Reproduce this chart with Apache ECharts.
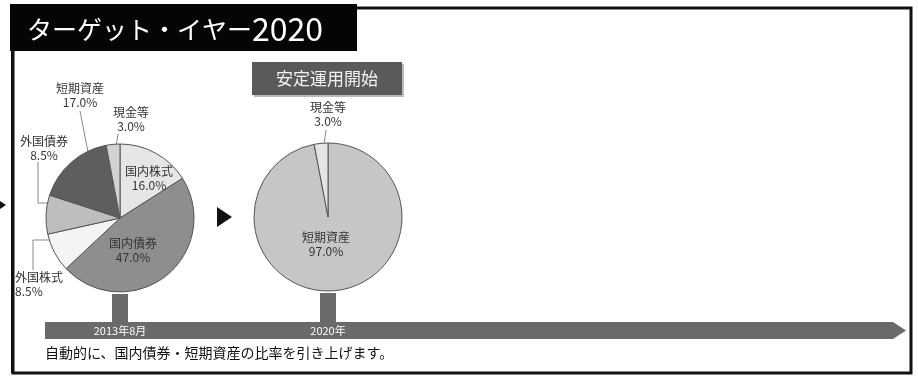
<!DOCTYPE html>
<html>
<head>
<meta charset="utf-8">
<style>
  html, body { margin: 0; padding: 0; background: #fff; }
  #chart { width: 918px; height: 377px; }
</style>
</head>
<body>
<div id="chart"></div>
<script src="https://cdn.jsdelivr.net/npm/echarts@6/dist/echarts.min.js"></script>
<script>
    // 2013年8月 の資産配分
    const nowNames = ['国内株式', '国内債券', '外国株式', '外国債券', '短期資産', '現金等'];
    const nowValues = [16.0, 47.0, 8.5, 8.5, 17.0, 3.0];
    // 2020年 の資産配分
    const targetNames = ['短期資産', '現金等'];
    const targetValues = [97.0, 3.0];
    const timeLabels = ['2013年8月', '2020年'];

    const nowColors = ['#e6e6e6', '#8e8e8e', '#f4f4f4', '#bebebe', '#5e5e5e', '#d2d2d2'];
    const targetColors = ['#c6c6c6', '#e4e4e4'];

    // label placement: [x, y, align, line points]
    const nowLabelPos = [
        [149, 178, 'center', null],
        [133, 250, 'center', null],
        [15, 284, 'left', [[52, 240], [33, 240], [33, 270]]],
        [44, 148, 'center', [[52, 203], [38, 203], [38, 162]]],
        [80, 95, 'center', [[88, 152], [80, 111]]],
        [131, 119, 'center', [[115, 153], [118, 134]]]
    ];
    const targetLabelPos = [
        [326, 244, 'center', null],
        [328, 114, 'center', [[323, 152], [326, 130]]]
    ];

    const font = '"Noto Sans CJK JP", "Noto Sans", sans-serif';
    const chart = echarts.init(document.getElementById('chart'));

    function buildData(names, values, colors, pos) {
        return names.map((n, i) => ({
            name: n,
            value: values[i],
            itemStyle: { color: colors[i] },
            labelLine: { show: !!pos[i][3] }
        }));
    }

    function layoutFor(pos) {
        return function (params) {
            const p = pos[params.dataIndex];
            const res = { x: p[0], y: p[1], align: p[2], verticalAlign: 'middle', hideOverlap: false };
            if (p[3]) res.labelLinePoints = p[3];
            return res;
        };
    }

    function pieSeries(names, values, colors, center, pos) {
        return {
            type: 'pie',
            center: center,
            radius: 74,
            startAngle: 90,
            clockwise: true,
            silent: true,
            avoidLabelOverlap: false,
            data: buildData(names, values, colors, pos),
            itemStyle: { borderColor: '#555', borderWidth: 1 },
            label: {
                show: true,
                position: 'outside',
                overflow: 'none',
                width: 80,
                fontFamily: font,
                fontSize: 12,
                lineHeight: 14,
                color: '#333',
                formatter: (p) => p.name + '\n' + p.value.toFixed(1) + '%'
            },
            labelLine: { show: true, lineStyle: { color: '#888', width: 1 } },
            labelLayout: layoutFor(pos)
        };
    }

    const s1 = pieSeries(nowNames, nowValues, nowColors, [120, 218], nowLabelPos);
    const s2 = pieSeries(targetNames, targetValues, targetColors, [328, 217], targetLabelPos);

    chart.setOption({
        animation: false,
        backgroundColor: '#fff',
        graphic: [
            // frame
            { type: 'rect', shape: { x: 13, y: 8, width: 898, height: 365 }, style: { fill: 'none', stroke: '#111', lineWidth: 3 }, z: -1 },
            { type: 'rect', shape: { x: 11, y: 8, width: 3, height: 365 }, style: { fill: '#111' } },
            { type: 'rect', shape: { x: 10, y: 4, width: 347, height: 47 }, style: { fill: '#050505' } },
            {
                type: 'text', x: 27, y: 29,
                style: {
                    text: '{a|ターゲット・イヤー}{b|2020}',
                    verticalAlign: 'middle',
                    fill: '#fff',
                    rich: {
                        a: { fontFamily: font, fontSize: 25, fill: '#fff' },
                        b: { fontFamily: font, fontSize: 32, fill: '#fff' }
                    }
                }
            },
            // stray arrow of the previous panel
            { type: 'polygon', shape: { points: [[0, 201], [6, 205], [0, 209]] }, style: { fill: '#111' } },
            // arrow between pies
            { type: 'polygon', shape: { points: [[217, 207], [217, 227], [232, 217]] }, style: { fill: '#111' } },
            // 安定運用開始 box
            { type: 'rect', shape: { x: 254, y: 64, width: 150, height: 33 }, style: { fill: '#bbb' } },
            { type: 'rect', shape: { x: 252, y: 62, width: 150, height: 33 }, style: { fill: '#5a5a5a' } },
            { type: 'text', x: 327, y: 79, style: { text: '安定運用開始', fontFamily: font, fontSize: 17, fill: '#f2f2f2', align: 'center', verticalAlign: 'middle' } },
            // connectors
            { type: 'rect', shape: { x: 112, y: 294, width: 16, height: 30 }, style: { fill: '#6a6a6a' } },
            { type: 'rect', shape: { x: 320, y: 293, width: 16, height: 31 }, style: { fill: '#6a6a6a' } },
            // time bar
            { type: 'polygon', shape: { points: [[45, 322], [893, 322], [906, 330.5], [893, 339], [45, 339]] }, style: { fill: '#6a6a6a' } },
            { type: 'text', x: 120, y: 331, style: { text: timeLabels[0], fontFamily: font, fontSize: 11, fill: '#fff', align: 'center', verticalAlign: 'middle' } },
            { type: 'text', x: 328, y: 331, style: { text: timeLabels[1], fontFamily: font, fontSize: 11, fill: '#fff', align: 'center', verticalAlign: 'middle' } },
            { type: 'text', x: 45, y: 353, style: { text: '自動的に、国内債券・短期資産の比率を引き上げます。', fontFamily: font, fontSize: 14, fill: '#111', verticalAlign: 'middle' } }
        ],
        series: [s1, s2]
    });
</script>
</body>
</html>
